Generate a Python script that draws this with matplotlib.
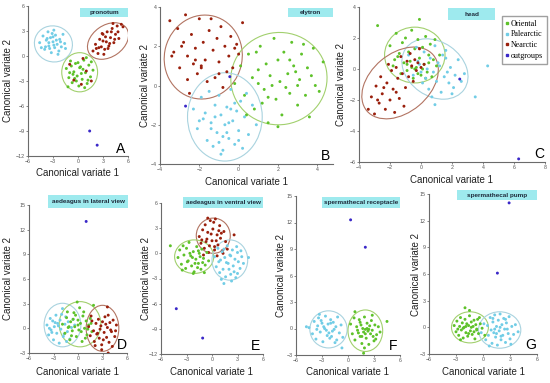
import matplotlib.pyplot as plt
from matplotlib.patches import Ellipse, Rectangle
from matplotlib.lines import Line2D

plt.rcParams['font.family'] = ['Liberation Sans', 'DejaVu Sans']

groups = ['Oriental', 'Palearctic', 'Nearctic', 'outgroups']
dot_col = {'Oriental': '#5ec22a', 'Palearctic': '#72cde6', 'Nearctic': '#9a1f0c', 'outgroups': '#3a28c8'}
ell_col = {'Oriental': '#a2d06e', 'Palearctic': '#a9d3df', 'Nearctic': '#b27462'}

# ---- A pronotum
a_pal_x = [-4.6,-4.2,-4.0,-3.8,-3.6,-3.5,-3.3,-3.2,-3.0,-2.9,-2.8,-2.7,-2.5,-2.4,-2.2,-2.0,-1.8,-1.6,-3.9,-3.4,-3.1,-2.6,-2.3,-3.7,-2.9,-4.4,-1.5,-3.0,-2.1,-3.5]
a_pal_y = [1.6,2.4,0.8,1.9,2.9,1.2,2.2,0.4,1.7,3.1,1.0,2.5,1.4,0.2,2.0,1.1,2.6,1.5,1.1,0.9,2.7,1.9,0.6,2.1,1.3,1.0,0.9,2.3,1.7,1.6]
a_ori_x = [-1.4,-1.1,-0.9,-0.7,-0.5,-0.3,-0.1,0.1,0.3,0.5,0.7,0.9,1.1,1.3,1.5,1.8,-1.2,-0.6,0.0,0.6,1.2,-0.8,0.4,1.0,-0.2,0.8,-1.0,0.2,1.6,-0.4]
a_ori_y = [-1.5,-2.6,-0.6,-3.2,-1.9,-0.9,-2.4,-3.6,-1.3,-2.8,-0.5,-2.0,-3.3,-1.1,-2.5,-1.7,-3.7,-2.2,-0.8,-1.6,-2.9,-1.2,-2.1,-0.2,-3.0,-3.8,-2.0,-1.4,-0.7,-2.7]
a_nea_x = [1.8,2.1,2.4,2.6,2.8,3.0,3.2,3.4,3.5,3.7,3.9,4.1,4.3,4.5,4.7,4.9,5.2,2.5,3.0,3.6,4.0,4.4,3.3,3.8,4.8,2.2,2.9,4.2,3.1,5.4,-0.5,0.4,1.0,-1.0,0.6,1.6]
a_nea_y = [0.6,1.4,0.3,2.0,1.1,2.6,0.8,1.7,2.9,1.2,2.2,3.3,1.6,2.6,3.6,2.1,3.8,1.0,1.8,0.9,2.9,2.0,2.3,1.5,2.9,0.9,2.7,3.9,0.2,3.5,-2.9,-3.4,-1.8,-1.0,-0.3,-3.0]
a_out_x = [1.4, 2.3]
a_out_y = [-9.0, -10.7]
# ellipses: group, cx, cy, width, height, angle
a_ell = [('Palearctic', -2.95, 1.45, 4.6, 4.3, -20), ('Oriental', 0.2, -1.95, 4.3, 4.7, 0), ('Nearctic', 3.6, 1.8, 5.4, 3.8, 35)]

# ---- B elytron
b_nea_x = [-3.5,-3.3,-3.1,-3.0,-2.8,-2.7,-2.6,-2.5,-2.4,-2.3,-2.2,-2.1,-2.0,-1.9,-1.8,-1.7,-1.6,-1.5,-1.4,-1.3,-1.2,-1.1,-1.0,-0.9,-0.8,-0.7,-0.6,-0.5,-0.4,-0.3,-0.2,0.0,0.2,-2.9,-2.2,-1.9,-3.4,-2.6,-1.0,-0.1]
b_nea_y = [3.3,1.7,2.9,0.9,2.2,3.6,1.5,-0.4,2.6,1.1,1.9,0.6,3.4,1.0,2.2,1.3,0.2,2.8,3.4,1.8,0.4,2.4,1.2,3.0,-0.1,2.0,0.7,1.5,2.5,0.9,1.9,1.6,3.2,2.0,1.3,0.9,1.5,0.3,0.6,2.1]
b_ori_x = [-0.2,0.1,0.3,0.5,0.7,0.8,1.0,1.1,1.3,1.4,1.5,1.6,1.8,1.9,2.0,2.1,2.2,2.3,2.5,2.6,2.7,2.8,3.0,3.1,3.2,3.4,3.5,3.6,3.8,3.9,4.1,4.3,0.4,1.2,1.7,2.4,2.9,3.3,1.0,2.0,3.0,0.9,1.5,2.6,3.7]
b_ori_y = [0.1,1.0,-0.5,1.6,0.4,-1.2,0.8,2.0,-0.2,1.1,-1.9,0.5,2.4,-0.7,1.3,0.2,-1.5,1.7,0.6,-0.4,2.2,1.0,-1.0,0.3,1.6,-0.5,0.9,-1.6,1.9,0.0,-0.3,1.2,-1.5,-0.9,0.0,-0.1,0.7,2.1,0.1,-2.1,0.0,1.7,-0.6,1.3,0.5]
b_pal_x = [-2.3,-2.1,-1.9,-1.8,-1.6,-1.5,-1.4,-1.3,-1.2,-1.1,-1.0,-0.9,-0.8,-0.7,-0.6,-0.5,-0.4,-0.3,-0.2,-0.1,0.0,0.1,0.3,0.5,0.7,0.9,-1.7,-1.0,-0.6,-0.2,0.2,-1.2,-0.8,-0.4,0.4,-1.4,-0.9,-0.5,0.0,-2.0]
b_pal_y = [-1.2,-2.2,-0.6,-1.7,-2.8,-0.3,-1.9,-3.1,-1.0,-2.4,-0.5,-1.5,-3.3,-2.0,-1.1,-2.7,-0.2,-1.8,-3.0,-1.3,-2.3,-0.8,-1.6,-2.5,-1.0,-2.0,-1.4,-2.9,-2.4,-0.9,-3.2,-1.6,-2.6,-1.2,-0.4,-2.2,-3.5,-1.9,-2.8,-1.8]
b_out_x = [-2.7, -0.45]
b_out_y = [-1.05, 0.45]
b_ell = [('Nearctic', -1.8, 1.45, 3.95, 4.3, -15), ('Oriental', 2.05, 0.35, 4.9, 4.7, 10), ('Palearctic', -0.7, -1.6, 3.8, 4.5, 0)]

# ---- C head
c_ori_x = [-2.0,-1.8,-1.6,-1.5,-1.3,-1.2,-1.1,-1.0,-0.9,-0.8,-0.7,-0.6,-0.5,-0.4,-0.3,-0.2,-0.1,0.0,0.1,0.2,0.3,0.4,0.5,0.6,0.7,0.8,1.0,1.2,-1.4,-0.9,-0.4,0.1,0.5,-0.6,-0.2,0.3,-2.8,-0.1,-1.7,0.9]
c_ori_y = [1.5,0.2,2.3,0.8,-0.3,1.7,0.4,2.0,-0.1,1.1,0.5,2.5,-0.6,1.3,0.1,1.9,0.7,-0.4,1.4,0.3,2.1,-0.2,0.9,1.6,-0.5,0.6,0.2,0.9,1.0,0.3,0.0,0.0,0.4,0.1,-0.3,-0.6,2.8,3.2,0.6,1.9]
c_pal_x = [-0.8,-0.5,-0.3,-0.1,0.1,0.2,0.4,0.5,0.6,0.8,0.9,1.0,1.1,1.3,1.4,1.5,1.6,1.8,1.9,2.0,2.2,2.4,2.6,0.0,0.7,1.2,1.7,2.1,-0.2,0.3,3.5,4.3,0.9,1.6,2.8]
c_pal_y = [0.9,-0.4,1.4,0.3,-0.9,1.1,0.0,-1.3,0.7,-0.2,1.5,-0.8,0.4,-1.5,0.9,-0.5,1.2,-0.9,0.1,-1.6,-0.4,0.6,-0.8,-0.2,-1.8,0.2,-0.2,-1.2,0.5,-0.6,-1.8,0.2,-2.3,0.7,-0.3]
c_nea_x = [-3.4,-3.2,-3.0,-2.9,-2.7,-2.6,-2.5,-2.3,-2.2,-2.1,-2.0,-1.8,-1.7,-1.6,-1.5,-1.4,-1.3,-1.2,-1.0,-0.9,-0.8,-0.7,-0.6,-0.5,-0.4,-0.3,-0.2,0.0,0.2,-2.8,-1.9,-1.1,-0.1,-2.4,-1.6]
c_nea_y = [-2.6,-1.8,-2.9,-1.1,-2.2,-0.5,-1.6,-2.6,-0.9,0.3,-2.0,-1.3,-2.8,0.1,-0.6,-1.9,0.8,-0.3,-1.2,0.5,-0.5,1.0,0.2,-0.8,0.6,-0.1,0.4,0.1,0.3,-2.0,-0.1,-2.4,1.3,-1.2,-1.5]
c_out_x = [2.5, 6.3]
c_out_y = [-0.65, -5.8]
c_ell = [('Oriental', -0.4, 0.9, 3.9, 3.6, 0), ('Palearctic', 0.9, 0.0, 4.6, 3.5, -35), ('Nearctic', -1.35, -0.9, 5.6, 3.8, 40)]

# ---- D aedeagus lateral
d_pal_x = [-3.8,-3.6,-3.4,-3.3,-3.1,-3.0,-2.9,-2.7,-2.6,-2.5,-2.3,-2.2,-2.1,-1.9,-1.8,-1.6,-1.5,-1.3,-1.2,-1.0,-0.8,-0.6,-3.2,-2.4,-1.7,-2.8,-2.0,-1.4,-3.5,-0.4]
d_pal_y = [0.4,-0.8,1.2,-0.2,0.9,-1.4,0.2,1.6,-0.6,0.6,-1.8,1.0,-0.1,2.4,-1.0,0.5,1.4,-0.4,0.8,-1.3,0.1,1.1,-0.5,0.3,-0.7,0.7,1.7,-1.6,0.0,0.4]
d_ori_x = [-1.9,-1.6,-1.4,-1.2,-1.0,-0.9,-0.7,-0.5,-0.4,-0.2,0.0,0.1,0.3,0.5,0.6,0.8,1.0,1.1,1.3,1.5,1.7,-1.3,-0.6,0.2,0.9,1.6,-0.8,0.4,-0.1,0.7,-1.1,0.0,1.9,-0.3,1.2]
d_ori_y = [0.5,-0.6,1.3,0.1,-1.4,0.8,-0.3,1.9,0.2,-1.0,1.0,-0.2,0.6,-1.6,1.5,0.0,0.9,-0.8,0.4,1.2,-0.4,2.0,1.1,2.5,-1.2,0.6,-0.9,-0.4,3.2,2.0,0.2,0.4,2.8,1.6,-0.1]
d_nea_x = [1.3,1.5,1.7,1.9,2.0,2.2,2.3,2.5,2.6,2.8,2.9,3.0,3.2,3.3,3.5,3.6,3.8,3.9,4.1,4.3,4.5,4.7,2.1,2.7,3.1,3.7,4.2,2.4,3.4,4.0,1.6,2.9,3.6,4.6,3.7]
d_nea_y = [0.2,-0.9,0.9,-0.3,-1.6,0.6,-0.7,1.1,-1.2,0.3,-2.0,0.8,-0.5,1.4,-1.1,0.1,-1.7,0.7,-0.4,1.0,-1.0,0.4,-2.1,-0.1,-1.4,1.6,-2.2,-0.6,0.5,-0.2,1.5,-2.6,2.6,-0.3,-3.0]
d_out_x = [1.0, 4.0]
d_out_y = [13.0, 15.0]
d_ell = [('Palearctic', -1.9, 0.4, 4.5, 5.3, 0), ('Oriental', 0.25, 0.5, 5.1, 5.5, 0), ('Nearctic', 3.0, 0.0, 4.0, 5.6, 0)]

# ---- E aedeagus ventral
e_nea_x = [-1.5,-1.3,-1.1,-0.9,-0.8,-0.6,-0.5,-0.3,-0.2,0.0,0.1,0.3,0.4,0.6,0.7,0.9,1.0,1.2,1.4,1.6,-1.0,-0.4,0.2,0.8,1.3,-0.7,0.5,1.1,-0.1,0.3,2.6,1.8,-1.2,0.6,-0.5]
e_nea_y = [2.0,1.2,2.8,0.6,3.4,1.7,2.5,0.9,3.9,1.5,2.9,0.4,4.1,2.2,1.0,3.3,1.8,0.3,2.6,1.4,-0.2,0.1,3.7,2.7,0.0,1.4,1.5,2.4,2.3,0.8,2.2,0.5,1.6,-0.3,4.2]
e_ori_x = [-4.0,-3.8,-3.6,-3.4,-3.3,-3.1,-3.0,-2.8,-2.7,-2.5,-2.4,-2.2,-2.1,-1.9,-1.8,-1.6,-1.5,-1.3,-1.2,-1.0,-0.8,-0.6,-0.4,-3.5,-2.9,-2.3,-1.7,-1.1,-2.6,-2.0,-1.4,-0.9,-4.9,-2.2,-1.6]
e_ori_y = [-0.5,0.4,-1.3,0.9,-0.2,-1.8,0.6,-0.9,1.3,-0.3,-1.5,0.2,-2.2,-0.7,0.8,-1.2,0.0,-1.9,0.5,-0.6,-1.4,0.1,-0.9,-2.0,-1.0,-0.5,-1.7,-1.1,0.0,-1.2,-0.4,-2.3,0.9,-2.4,0.3]
e_pal_x = [0.3,0.5,0.7,0.9,1.0,1.2,1.3,1.5,1.6,1.8,1.9,2.1,2.2,2.4,2.5,2.7,2.8,3.0,3.1,3.3,3.5,3.7,1.1,1.7,2.3,2.9,3.4,0.8,2.0,2.6,1.4,2.2,4.3,1.4,3.0]
e_pal_y = [-0.4,-1.6,0.6,-2.3,-0.8,0.2,-1.9,-0.5,-2.8,0.9,-1.2,-0.2,-2.5,0.4,-1.5,-0.7,-2.9,0.1,-1.0,-1.8,-0.4,-1.2,-3.1,-1.1,-3.3,0.8,0.3,-1.0,-1.9,-2.2,0.5,-0.3,-0.5,-3.6,-2.4]
e_out_x = [-4.2, -1.1]
e_out_y = [-6.6, -10.1]
e_ell = [('Nearctic', 0.15, 2.1, 4.0, 4.2, 0), ('Oriental', -2.1, -0.4, 4.6, 4.0, 0), ('Palearctic', 2.1, -0.8, 4.2, 4.8, 0)]

# ---- F spermathecal receptacle
f_pal_x = [-4.5,-4.1,-3.9,-3.7,-3.5,-3.4,-3.2,-3.0,-2.9,-2.7,-2.6,-2.4,-2.3,-2.1,-2.0,-1.8,-1.7,-1.5,-1.4,-1.2,-1.0,-0.8,-0.6,-3.6,-3.1,-2.5,-1.9,-1.3,-2.8,-2.2,-1.6,-3.3,-4.8,-0.7,-2.0]
f_pal_y = [0.1,-0.6,0.8,-1.2,0.3,1.2,-0.4,0.6,-1.5,0.0,1.4,-0.8,0.5,-1.1,1.0,-0.3,0.7,-1.6,0.2,1.3,-0.5,0.4,-1.0,-0.1,0.9,-0.2,-0.9,-1.3,0.2,-0.5,-0.1,1.6,0.2,-2.2,0.6]
f_ori_x = [0.3,0.5,0.7,0.8,1.0,1.1,1.3,1.4,1.5,1.6,1.7,1.8,1.9,2.0,2.1,2.2,2.3,2.4,2.5,2.6,2.7,2.8,3.0,3.1,3.3,3.5,3.7,1.2,1.6,2.0,2.4,2.8,3.2,1.9,2.2,4.5,1.8,0.8,2.9,1.4]
f_ori_y = [0.5,-0.6,1.2,-1.3,0.2,-0.2,1.0,-0.9,0.4,-1.7,0.0,-0.4,1.3,-0.1,-1.1,0.6,-0.3,-1.8,0.3,-0.6,0.9,-0.2,-1.4,0.4,-0.7,0.2,-0.4,-0.5,-0.9,-0.6,-0.1,1.5,-1.2,-2.2,0.0,0.8,-2.8,1.9,-0.9,0.7]
f_out_x = [0.3, 2.0]
f_out_y = [12.3, 9.2]
f_ell = [('Palearctic', -2.25, -0.1, 4.3, 4.2, 0), ('Oriental', 2.0, -0.25, 4.0, 4.7, 0)]

# ---- G spermathecal pump
g_ori_x = [-3.2,-3.0,-2.9,-2.7,-2.6,-2.5,-2.4,-2.3,-2.2,-2.1,-2.0,-1.9,-1.8,-1.7,-1.6,-1.5,-1.4,-1.3,-1.2,-1.1,-1.0,-0.9,-0.8,-0.7,-0.6,-0.5,-0.3,-0.1,0.2,-2.8,-2.2,-1.6,-1.0,-0.4,-2.5,-1.9,-1.3,-2.0,-1.5,-0.7]
g_ori_y = [0.2,-0.5,0.7,-0.9,0.1,1.1,-0.3,0.5,-1.2,0.0,0.9,-0.6,0.4,-1.0,0.2,1.3,-0.4,0.6,-0.8,0.1,0.8,-1.3,0.3,-0.2,0.9,-0.7,0.4,-0.1,-0.9,-0.2,-0.1,-0.7,-0.5,1.1,-1.4,0.1,0.0,2.2,1.9,-0.3]
g_pal_x = [-0.2,0.1,0.3,0.5,0.6,0.8,0.9,1.0,1.1,1.2,1.3,1.4,1.5,1.6,1.7,1.8,1.9,2.0,2.1,2.2,2.3,2.4,2.5,2.6,2.8,2.9,3.0,3.2,3.4,3.6,3.9,0.7,1.3,1.9,2.5,3.1,1.1,2.0,2.7,1.5]
g_pal_y = [-0.6,0.4,-1.4,0.2,-0.9,1.1,-0.3,-1.8,0.6,-0.6,1.4,-1.1,0.1,-2.0,0.8,-0.4,1.5,-1.4,0.3,-0.9,1.0,-0.2,-1.7,0.5,-0.7,1.2,-1.3,0.1,-0.8,0.3,-0.5,-2.1,-0.2,0.0,0.9,-1.9,1.0,-1.0,-0.2,-0.7]
g_out_x = [2.9, 1.6]
g_out_y = [14.0, 6.1]
g_ell = [('Oriental', -1.45, 0.0, 4.1, 3.5, 0), ('Palearctic', 1.85, -0.3, 4.7, 4.1, 0)]

W, H = 550, 383
fig = plt.figure(figsize=(5.5, 3.83), dpi=100)

def fx(px):
    return px / W

def fy(py):
    return 1 - py / H

# pixel box (left, right, top, bottom), limits, ticks, title box, letter pos, label pos
panels = [
    dict(box=(28, 128, 6, 156), xlim=(-6, 6), ylim=(-12, 6), xt=range(-6, 7, 3), yt=range(-12, 7, 3),
         pts=[('Palearctic', a_pal_x, a_pal_y), ('Oriental', a_ori_x, a_ori_y), ('Nearctic', a_nea_x, a_nea_y), ('outgroups', a_out_x, a_out_y)],
         ell=a_ell, title='pronotum', tbox=(80, 128, 8, 17), letter='A', lpos=(121, 149), ylab=8, xlab=173),
    dict(box=(160, 333, 7, 164), xlim=(-4, 4.8), ylim=(-4, 4), xt=range(-4, 5, 2), yt=range(-4, 5, 2),
         pts=[('Nearctic', b_nea_x, b_nea_y), ('Oriental', b_ori_x, b_ori_y), ('Palearctic', b_pal_x, b_pal_y), ('outgroups', b_out_x, b_out_y)],
         ell=b_ell, title='elytron', tbox=(288, 333, 8, 17), letter='B', lpos=(325, 156), ylab=145, xlab=182),
    dict(box=(359, 545, 7, 162), xlim=(-4, 8), ylim=(-6, 4), xt=range(-4, 9, 2), yt=range(-6, 5, 2),
         pts=[('Oriental', c_ori_x, c_ori_y), ('Palearctic', c_pal_x, c_pal_y), ('Nearctic', c_nea_x, c_nea_y), ('outgroups', c_out_x, c_out_y)],
         ell=c_ell, title='head', tbox=(448, 495, 8, 20), letter='C', lpos=(539, 154), ylab=341, xlab=180),
    dict(box=(29, 127, 205, 353), xlim=(-6, 6), ylim=(-3, 15), xt=range(-6, 7, 3), yt=range(-3, 16, 3),
         pts=[('Palearctic', d_pal_x, d_pal_y), ('Oriental', d_ori_x, d_ori_y), ('Nearctic', d_nea_x, d_nea_y), ('outgroups', d_out_x, d_out_y)],
         ell=d_ell, title='aedeagus in lateral view', tbox=(48, 128, 195, 208), letter='D', lpos=(122, 345), ylab=8, xlab=372),
    dict(box=(161, 263, 203, 354), xlim=(-6, 6), ylim=(-12, 6), xt=range(-6, 7, 3), yt=range(-12, 7, 3),
         pts=[('Nearctic', e_nea_x, e_nea_y), ('Oriental', e_ori_x, e_ori_y), ('Palearctic', e_pal_x, e_pal_y), ('outgroups', e_out_x, e_out_y)],
         ell=e_ell, title='aedeagus in ventral view', tbox=(183, 263, 197, 208), letter='E', lpos=(256, 346), ylab=146, xlab=372),
    dict(box=(296, 400, 196, 355), xlim=(-6, 6), ylim=(-3, 15), xt=range(-6, 7, 3), yt=range(-3, 16, 3),
         pts=[('Palearctic', f_pal_x, f_pal_y), ('Oriental', f_ori_x, f_ori_y), ('outgroups', f_out_x, f_out_y)],
         ell=f_ell, title='spermathecal receptacle', tbox=(322, 400, 197, 208), letter='F', lpos=(393, 346), ylab=281, xlab=372),
    dict(box=(429, 537, 194, 354), xlim=(-6, 6), ylim=(-3, 15), xt=range(-6, 7, 3), yt=range(-3, 16, 3),
         pts=[('Oriental', g_ori_x, g_ori_y), ('Palearctic', g_pal_x, g_pal_y), ('outgroups', g_out_x, g_out_y)],
         ell=g_ell, title='spermathecal pump', tbox=(457, 537, 190, 200), letter='G', lpos=(531, 345), ylab=416, xlab=372),
]

axes = []
for p in panels:
    l, r, t, b = p['box']
    ax = fig.add_axes([fx(l), fy(b), (r - l) / W, (b - t) / H])
    for g, xs, ys in p['pts']:
        ax.scatter(xs, ys, s=4.5, color=dot_col[g], edgecolors='none', zorder=3)
    for g, cx, cy, w, h, ang in p['ell']:
        ax.add_patch(Ellipse((cx, cy), w, h, angle=ang, fill=False, edgecolor=ell_col[g], lw=0.8, zorder=2))
    ax.set_xlim(p['xlim'])
    ax.set_ylim(p['ylim'])
    ax.set_xticks(list(p['xt']))
    ax.set_yticks(list(p['yt']))
    for s in ['top', 'right']:
        ax.spines[s].set_visible(False)
    for s in ['left', 'bottom']:
        ax.spines[s].set_color('#6b6b6b')
        ax.spines[s].set_linewidth(0.8)
    ax.tick_params(labelsize=3.8, length=1.5, width=0.5, pad=1, colors='#555555')
    ax.patch.set_alpha(0)

    x0, x1, y0, y1 = p['tbox']
    fig.patches.append(Rectangle((fx(x0), fy(y1)), (x1 - x0) / W, (y1 - y0) / H, transform=fig.transFigure,
                                 facecolor='#9eeaee', edgecolor='none', zorder=1))
    fig.text(fx((x0 + x1) / 2), fy((y0 + y1) / 2), p['title'], ha='center', va='center', fontsize=4.6,
             color='#1e2a3a', fontweight='bold')
    fig.text(fx(p['lpos'][0]), fy(p['lpos'][1]), p['letter'], ha='center', va='center', fontsize=10, color='black')
    fig.text(fx(p['ylab']), fy((t + b) / 2), 'Canonical variate 2', rotation=90, ha='center', va='center', fontsize=7, color='#222222')
    fig.text(fx((l + r) / 2), fy(p['xlab']), 'Canonical variate 1', ha='center', va='center', fontsize=7, color='#222222')
    axes.append(ax)

handles = [Line2D([], [], ls='none', marker='s', markersize=1.8, color=dot_col[g]) for g in groups]
axes[2].legend(handles, groups, loc='upper left', bbox_to_anchor=(fx(502), fy(16)), bbox_transform=fig.transFigure,
               prop={'family': 'Liberation Serif', 'size': 5.8}, frameon=True, fancybox=False, edgecolor='#888888',
               handlelength=0.4, handletextpad=0.25, borderpad=0.45, labelspacing=0.35, borderaxespad=0)

fig.savefig('out.png', dpi=100)
